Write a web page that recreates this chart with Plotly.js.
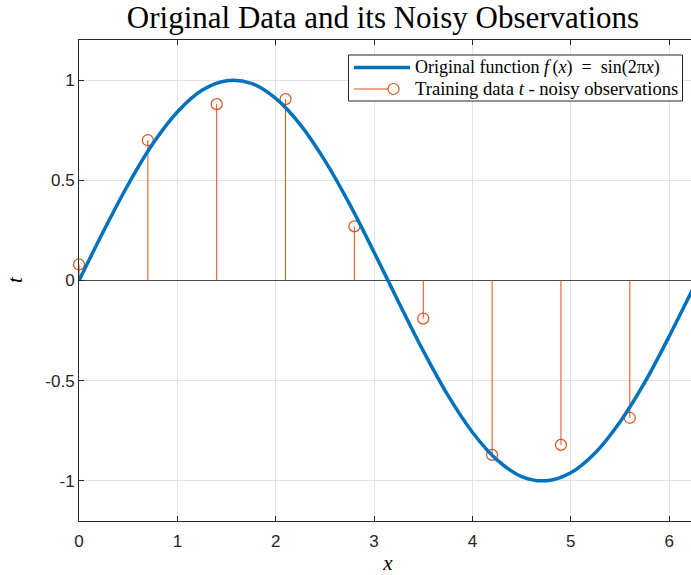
<!DOCTYPE html>
<html>
<head>
<meta charset="utf-8">
<script src="https://cdn.plot.ly/plotly-3.0.1.min.js"></script>
<style>
  html, body { margin: 0; padding: 0; background: #fff; overflow: hidden; }
  #chart { width: 700px; height: 575px; }
</style>
</head>
<body>
<div id="chart"></div>
<script>
// Smooth reference curve, sampled along x
const curveX = [0, 0.25, 0.5, 0.75, 1.0, 1.25, 1.5, 1.75, 2.0, 2.25, 2.5, 2.75, 3.0,
                3.25, 3.5, 3.75, 4.0, 4.25, 4.5, 4.75, 5.0, 5.25, 5.5, 5.75, 6.0, 6.25, 6.2832];
const curveY = [0, 0.247, 0.479, 0.682, 0.841, 0.949, 0.997, 0.984, 0.909, 0.778, 0.598, 0.382, 0.141,
                -0.108, -0.351, -0.572, -0.757, -0.895, -0.978, -0.999, -0.959, -0.859, -0.706, -0.510, -0.279, -0.033, 0];

// Training samples (noisy observations)
const sampleX = [0, 0.7, 1.4, 2.1, 2.8, 3.5, 4.2, 4.9, 5.6];
const sampleT = [0.08, 0.70, 0.88, 0.905, 0.27, -0.19, -0.87, -0.82, -0.685];

const xTicks = [0, 1, 2, 3, 4, 5, 6];
const yTicks = [-1, -0.5, 0, 0.5, 1];
const yTickText = ['-1', '-0.5', '0', '0.5', '1'];

const blue = '#0072BD';
const orange = '#D95319';
const axisCol = '#262626';
const serif = 'Liberation Serif, Times New Roman, serif';
const sans = 'Liberation Sans, Arial, Helvetica, sans-serif';

// Plot-area geometry (pixels) used to place the hand-built legend
const W = 700, H = 575;
const M = { l: 79, r: 3, t: 40, b: 54 };
const PL = M.l, PR = W - M.r, PT = M.t, PB = H - M.b;
const fx = p => (p - PL) / (PR - PL);
const fy = p => (PB - p) / (PB - PT);

// Stem lines from the baseline up/down to each sample
const stemX = [], stemY = [];
sampleX.forEach((x, i) => { stemX.push(x, x, null); stemY.push(0, sampleT[i], null); });

const traces = [
  { x: stemX, y: stemY, mode: 'lines', line: { color: orange, width: 1 },
    hoverinfo: 'skip', showlegend: false },
  { x: sampleX, y: sampleT, mode: 'markers', cliponaxis: false,
    marker: { symbol: 'circle-open', size: 11, color: orange, line: { width: 1.2, color: orange } },
    showlegend: false },
  { x: curveX, y: curveY, mode: 'lines', line: { color: blue, width: 3.5, shape: 'spline', smoothing: 1 },
    showlegend: false }
];

// Legend drawn as shapes + text
const legBox = { x0: 348.5, x1: 682.5, y0: 55, y1: 101 };
const row1 = 67.5, row2 = 89;
const shapes = [
  { type: 'rect', xref: 'paper', yref: 'paper',
    x0: fx(legBox.x0), x1: fx(legBox.x1), y0: fy(legBox.y1), y1: fy(legBox.y0),
    fillcolor: '#fff', line: { color: axisCol, width: 1 }, layer: 'above' },
  { type: 'line', xref: 'paper', yref: 'paper',
    x0: fx(354), x1: fx(410), y0: fy(row1), y1: fy(row1),
    line: { color: blue, width: 3.5 }, layer: 'above' },
  { type: 'line', xref: 'paper', yref: 'paper',
    x0: fx(354), x1: fx(388), y0: fy(row2), y1: fy(row2),
    line: { color: orange, width: 1 }, layer: 'above' },
  { type: 'circle', xref: 'paper', yref: 'paper',
    x0: fx(388), x1: fx(399), y0: fy(row2 + 5.5), y1: fy(row2 - 5.5),
    line: { color: orange, width: 1.2 }, layer: 'above' }
];

const annotations = [
  { xref: 'paper', yref: 'paper', x: fx(413), y: fy(row1), xanchor: 'left', yanchor: 'middle',
    showarrow: false,
    text: 'Original function <i>f</i>\u2009(<i>x</i>)\u2002=\u2002sin(2π<i>x</i>)',
    font: { family: serif, size: 18, color: '#000' } },
  { xref: 'paper', yref: 'paper', x: fx(413), y: fy(row2), xanchor: 'left', yanchor: 'middle',
    showarrow: false, text: 'Training data <i>t</i> - noisy observations',
    font: { family: serif, size: 18.6, color: '#000' } },
  // y-axis label, rotated
  { xref: 'paper', yref: 'paper', x: fx(15), y: fy(280), xanchor: 'center', yanchor: 'middle',
    showarrow: false, textangle: -90, text: '<i>t</i>',
    font: { family: serif, size: 21, color: '#000' } }
];

const layout = {
  width: W, height: H,
  margin: M,
  paper_bgcolor: '#fff', plot_bgcolor: '#fff',
  title: { text: 'Original Data and its Noisy Observations',
           font: { family: serif, size: 31, color: '#000' },
           xref: 'container', x: 383 / W, xanchor: 'center',
           yref: 'container', y: 1 - 17 / H, yanchor: 'middle' },
  xaxis: {
    range: [0, 2 * Math.PI], tickvals: xTicks, ticktext: xTicks.map(String),
    showgrid: true, gridcolor: '#e3e3e3', gridwidth: 1,
    showline: true, linecolor: axisCol, linewidth: 1, mirror: 'ticks',
    ticks: 'inside', ticklen: 5, tickcolor: axisCol, zeroline: false,
    ticklabelstandoff: 5,
    tickfont: { family: sans, size: 17, color: axisCol },
    title: { text: '<i>x</i>', font: { family: serif, size: 21, color: '#000' }, standoff: 12 }
  },
  yaxis: {
    range: [-1.2, 1.2], tickvals: yTicks, ticktext: yTickText,
    showgrid: true, gridcolor: '#e3e3e3', gridwidth: 1,
    showline: true, linecolor: axisCol, linewidth: 1, mirror: 'ticks',
    ticks: 'inside', ticklen: 5, tickcolor: axisCol,
    zeroline: true, zerolinecolor: '#4a4a4a', zerolinewidth: 1,
    tickfont: { family: sans, size: 17, color: axisCol }
  },
  shapes: shapes,
  annotations: annotations,
  showlegend: false
};

Plotly.newPlot('chart', traces, layout, { displayModeBar: false, staticPlot: true });
</script>
</body>
</html>
